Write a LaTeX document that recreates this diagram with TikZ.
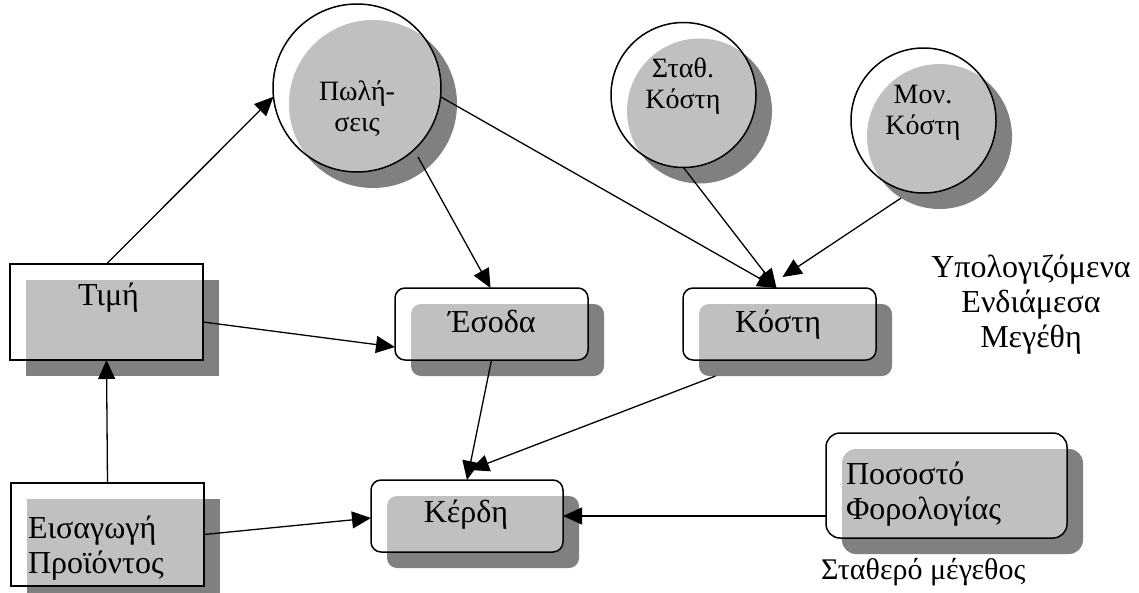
\documentclass[tikz,border=0pt]{standalone}
\usepackage{fontspec}
\setmainfont{Liberation Serif}
\usetikzlibrary{arrows.meta,shadows,calc}

\definecolor{shadowgrey}{HTML}{808080}
\definecolor{facegrey}{HTML}{C0C0C0}

\tikzset{
  every node/.style={inner sep=0pt, outer sep=0pt},
  % white outlined shape with a dark drop shadow
  shadowed/.style={draw=black, line width=1.5pt, fill=white,
    general shadow={fill=shadowgrey, shadow xshift=16pt, shadow yshift=-16pt}},
  % grey face: the shadow outline seen through the shape
  rectface/.style={path picture={
    \fill[facegrey, rounded corners=#1]
      ([shift={(16pt,-16pt)}]path picture bounding box.south west) rectangle
      ([shift={(16pt,-16pt)}]path picture bounding box.north east);}},
  squarebox/.style={shadowed, rectangle, rectface=0pt},
  roundbox/.style={shadowed, rectangle, rounded corners=#1, rectface=#1},
  roundbox/.default=10pt,
  bubble/.style={shadowed, circle, minimum size=2*#1, path picture={
    \fill[facegrey] ([shift={(16pt,-16pt)}]path picture bounding box.center) circle (#1);}},
  % multi-line labels are placed by the baseline of their last line
  lbl/.style={font=\fontsize{32}{35}\selectfont, align=center, anchor=base},
  freelbl/.style={font=\fontsize{30}{35}\selectfont, align=center, anchor=base},
  smalllbl/.style={font=\fontsize{28}{30.5}\selectfont, align=center, anchor=base},
  conn/.style={line width=1.3pt, -{Triangle[length=19pt,width=17pt]}},
}

\begin{document}
\begin{tikzpicture}[x=1pt, y=-1pt]
\path[clip] (0,0) rectangle (1139,592);

% quantities
\node[bubble=84pt] (pol) at (357,88) {};
\node[bubble=72.5pt] (sta) at (683.5,95) {};
\node[bubble=72.5pt] (mon) at (923.5,120.5) {};
\node[squarebox, minimum width=193pt, minimum height=96pt] (tim) at (106.5,312) {};
\node[squarebox, minimum width=193pt, minimum height=103pt] (eis) at (107.5,534.5) {};
\node[roundbox, minimum width=193pt, minimum height=72pt] (eso) at (491.5,324) {};
\node[roundbox, minimum width=193pt, minimum height=72pt] (kos) at (779.5,324) {};
\node[roundbox, minimum width=192pt, minimum height=72pt] (ker) at (467,516) {};
\node[roundbox=14pt, minimum width=241pt, minimum height=105pt] (pos) at (946.5,485.5) {};

% labels
\node[smalllbl] (polT) at (357,131) {Πωλή-\\σεις};
\node[smalllbl] (staT) at (683,108) {Σταθ.\\Κόστη};
\node[smalllbl] (monT) at (923,134) {Μον.\\Κόστη};
\node[lbl] (timT) at (108.5,305) {Τιμή};
\node[lbl] (esoT) at (492,332) {Έσοδα};
\node[lbl] (kosT) at (778,332) {Κόστη};
\node[lbl] (kerT) at (466,522) {Κέρδη};
\node[lbl, align=left, anchor=base west] (eisT) at (28,573) {Εισαγωγή\\Προϊόντος};
\node[lbl, align=left, anchor=base west] (posT) at (846,519) {Ποσοστό\\Φορολογίας};
\node[freelbl, anchor=base west] (fixT) at (821,579) {Σταθερό μέγεθος};
\node[lbl] (calcT) at (1031,347) {Υπολογιζόμενα\\Ενδιάμεσα\\Μεγέθη};

% connector end points
\coordinate (polOut) at ([shift={(61pt,-69pt)}]pol.center);
\coordinate (monOut) at ([shift={(16pt,-16pt)}]mon.-122);
\coordinate (kosOut) at ([shift={(-64pt,-16pt)}]kos.south);
\coordinate (kosIn) at ([xshift=-3pt]kos.north);
\coordinate (kosInR) at ([shift={(3pt,11pt)}]kos.north);
\coordinate (kerInR) at ([shift={(3pt,10pt)}]ker.north);

% influences
\draw[conn] (tim.north) -- (pol.186);
\draw[conn] (pol.-6) -- (kosIn);
\draw[conn] (sta.south) -- (kosIn);
\draw[conn] (monOut) -- (kosInR);
\draw[conn] (polOut) -- ([xshift=-1pt]eso.north);
\draw[conn] ([yshift=-10pt]tim.east) -- ([yshift=-23pt]eso.west);
\draw[conn] (eso.south) -- (ker.north);
\draw[conn] (kosOut) -- (kerInR);
\draw[conn] (eis.north) -- (tim.south);
\draw[conn] (eis.east) -- ([yshift=-2pt]ker.west);
\draw[conn] (ker.east -| pos.west) -- (ker.east);
\end{tikzpicture}
\end{document}
